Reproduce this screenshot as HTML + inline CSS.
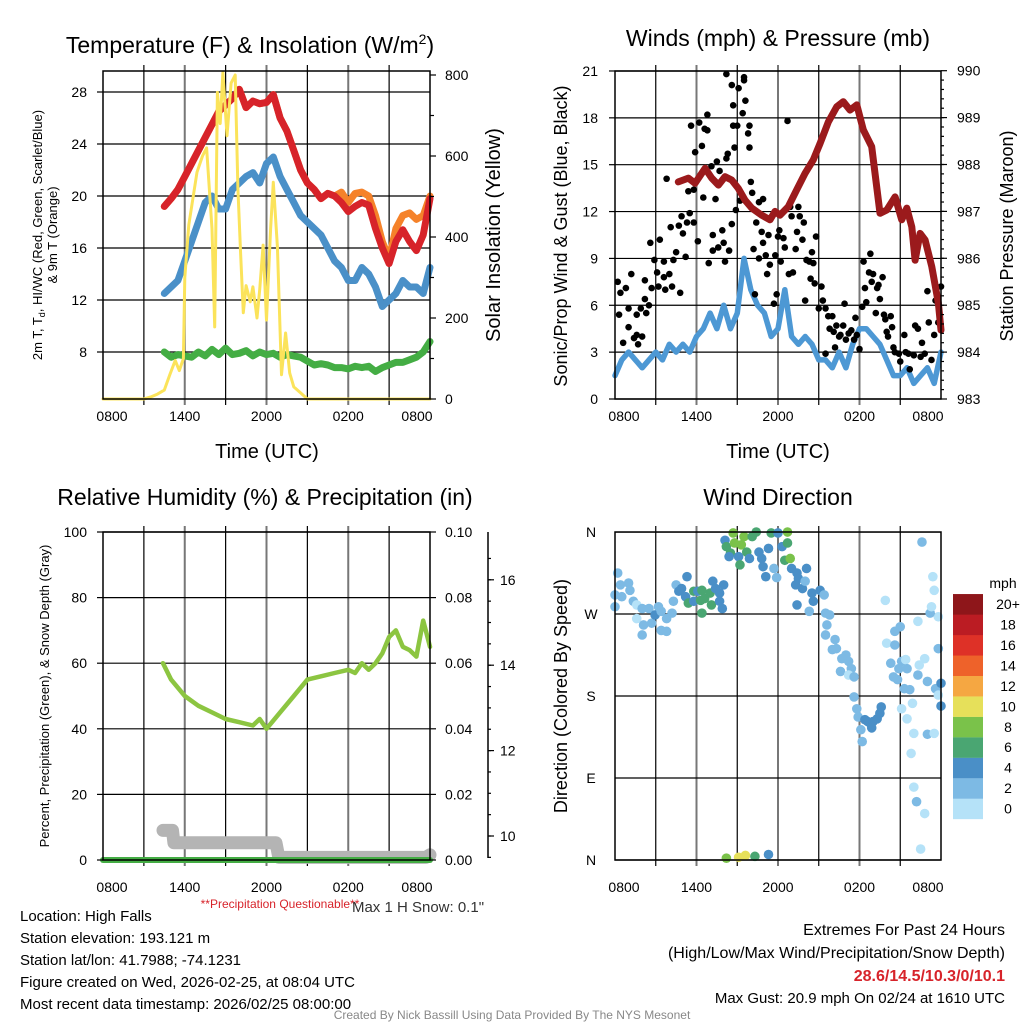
<!DOCTYPE html>
<html><head><meta charset="utf-8"><style>
body{margin:0;background:#fff}
svg{display:block;font-family:"Liberation Sans",sans-serif}
</style></head><body>
<svg id="chart" width="1024" height="1024" viewBox="0 0 1024 1024" xmlns="http://www.w3.org/2000/svg">
<g id="grid"></g><g id="marks"></g><g id="axes"></g><g id="labels"></g>
</svg>
<script>
// ---- data ----
const timeLabels = ["0800","1400","2000","0200","0800"];
const tHours = [4.5,5,5.5,6,6.5,7,7.5,8,8.5,9,9.5,10,10.5,11,11.5,12,12.5,13,13.5,14,14.5,15,15.5,16,16.5,17,17.5,18,18.5,19,19.5,20,20.5,21,21.5,22,22.5,23,23.5,24];
const temp2m = [19.2,19.8,20.5,21.5,22.5,23.5,24.5,25.5,26.5,27,27.5,28.2,26.8,27.3,27.1,27.2,27.8,26,25,23.5,22,21,20.5,19.8,20.2,20,19.5,18.8,19.2,19.5,19.3,17.5,16,14.8,16.5,17.4,16.5,15.8,17,19.8];
const temp9m = [19.2,19.8,20.5,21.5,22.5,23.5,24.5,25.5,26.5,27,27.5,28.2,26.8,27.3,27.1,27.2,27.8,26,25,23.5,22,21,20.5,19.8,20.2,20,20.3,19.5,20.2,20.3,20.0,18.5,16.5,15.2,17.5,18.5,18.7,18.2,18.5,20];
const hiwc = [12.5,13,13.5,15,16.5,18,19.5,20,19,19,20.5,21,21.5,21.8,21,22.5,23,21.5,20.5,19.5,18.5,18,17.5,17,16,15,14.5,13.5,13.5,14.5,14,13,11.5,12,12.5,13.5,13,13,12.5,14.5];
const dewpt = [8,7.6,7.8,7.7,7.6,8,7.7,8.2,7.8,8.3,7.8,7.9,8.1,7.7,8.0,7.8,7.9,7.6,7.8,7.7,7.6,7.3,7.0,7.1,7.0,6.8,6.8,6.7,6.9,6.8,6.9,6.5,6.8,7.0,7.2,7.2,7.4,7.6,8.0,8.8];
const solarHours = [0,3,3.5,4,4.5,4.9,5.3,5.6,5.9,6.0,6.3,6.9,7.3,7.6,8.0,8.2,8.4,8.6,8.8,9.1,9.4,9.7,9.9,10.1,10.3,10.5,10.8,11.0,11.3,11.5,11.75,12.0,12.3,12.5,12.8,13.1,13.4,13.7,14.0,14.5,15,24];
const solarValues = [0,0,5,12,22,60,95,70,100,300,430,560,600,620,420,178,757,680,806,650,780,800,520,360,213,280,240,277,200,270,380,195,420,535,376,60,163,64,30,15,0,0];
const tempTicks = [8,12,16,20,24,28];
const solarTicks = [0,200,400,600,800];

const windHours = [0,0.5,1,1.5,2,2.5,3,3.5,4,4.5,5,5.5,6,6.5,7,7.5,8,8.5,9,9.5,10,10.5,11,11.5,12,12.5,13,13.5,14,14.5,15,15.5,16,16.5,17,17.5,18,18.5,19,19.5,20,20.5,21,21.5,22,22.5,23,23.5,24];
const windSpeed = [1.5,2.5,3,2.5,2.0,2.5,3,2.5,3.5,3.0,3.5,3.0,4,4.5,5.5,4.5,6,4.5,5.5,9,7,6,5.5,4,4.5,7,4,3.5,4,3.5,2.5,2.5,2,3,2,3.5,4.5,4.5,4,3.5,2.5,1.5,1.5,2,1.0,1.5,2.0,1.0,3.0];
const gustHours = [0.2,0.4,0.3,0.8,0.6,1,1,1.2,1.4,1.6,1.7,1.9,1.6,2.2,2.3,2.0,2.5,2.2,2.6,2.7,2.9,3.1,3.2,3.3,3.6,3.6,3.7,3.8,4.0,4.1,4.2,4.3,4.5,4.7,4.8,4.9,5.0,5.2,5.3,5.4,5.5,5.6,5.8,5.8,5.9,6.1,6.2,6.4,6.5,6.6,6.8,6.8,6.9,7.1,7.2,7.2,7.4,7.6,7.5,7.7,7.9,8.0,8.1,8.2,8.2,8.3,8.4,8.6,8.6,8.7,8.7,8.8,8.9,9.0,9.1,9.2,9.4,9.5,9.5,9.6,9.8,9.9,9.9,10.0,10.1,10.2,10.3,10.4,10.6,10.6,10.8,10.9,10.9,11.1,11.2,11.3,11.4,11.7,11.8,11.9,12.0,12.1,12.2,12.4,12.5,12.7,12.8,12.9,13.0,13.1,13.3,13.4,13.5,13.6,13.8,13.9,14.0,14.1,14.3,14.4,14.5,14.6,14.7,14.8,15.0,15.2,15.3,15.5,15.5,15.7,15.8,16.0,16.1,16.2,16.3,16.5,16.6,16.8,16.9,17.0,17.2,17.4,17.6,17.7,17.8,18.0,18.2,18.3,18.4,18.5,18.7,18.8,18.9,19.0,19.2,19.3,19.4,19.5,19.7,19.8,19.9,20.0,20.1,20.3,20.4,20.5,20.6,20.9,21.0,21.3,21.4,21.6,21.7,22.0,22.1,22.3,22.5,22.6,22.8,23.0,23.1,23.3,23.5,23.6,23.8,24.0];
const gustValues = [7.5,6.8,5.4,7.1,3.6,4.6,5.8,8.0,3.9,4.1,3.5,5.8,5.4,6.4,5.5,4.0,6.0,7.6,10.0,7.1,8.9,8.1,7.2,10.2,7.8,8.8,7.0,14.1,8.0,11.0,7.2,8.9,9.4,11.1,6.8,11.7,10.6,9.1,11.3,13.3,11.9,17.5,13.4,11.3,15.8,10.1,17.7,16.2,12.9,17.3,17.2,18.2,8.7,14.9,10.5,9.5,12.8,9.7,15.2,14.6,10.8,10.0,8.8,20.8,15.4,15.7,9.5,20.1,11.2,18.8,17.5,16.1,12.1,17.5,19.9,12.7,18.3,20.4,20.6,19.1,17.0,17.5,16.1,13.9,13.2,9.6,6.7,11.3,12.6,9.0,10.7,12.8,10.0,9.2,8.0,10.5,8.6,6.1,9.2,6.7,10.4,10.8,8.8,10.3,9.7,17.8,8.0,12.3,11.7,8.1,9.6,10.7,12.3,11.7,10.2,11.3,6.3,8.9,8.8,7.7,9.4,8.7,7.4,10.4,5.8,7.2,6.3,5.8,2.9,5.3,4.5,5.3,4.3,3.3,4.7,4.0,4.1,4.7,6.1,3.8,4.2,4.4,3.8,5.2,4.1,3.2,5.9,8.8,7.1,6.2,8.1,9.3,7.5,8.0,5.5,7.1,7.3,6.4,7.8,5.4,5.1,4.3,4.0,5.3,4.6,3.3,3.0,2.9,2.4,4.1,3.0,2.9,1.9,2.8,4.7,4.5,2.7,3.6,2.9,6.9,4.9,2.5,4.1,6.3,4.9,7.2];
const presHours = [4.66,5.40,5.89,6.63,7.12,7.61,8.10,8.59,9.08,9.57,10.07,10.80,11.41,11.78,12.15,12.76,13.38,13.99,14.60,15.10,15.71,16.32,16.81,17.30,17.80,18.28,18.90,19.51,20.01,20.62,21.11,21.48,21.85,22.09,22.46,22.83,23.32,23.81,24.0];
const presValues = [987.63,987.71,987.60,987.92,987.71,987.56,987.74,987.67,987.49,987.24,987.07,986.92,986.82,987.0,986.92,987.10,987.46,987.81,988.10,988.45,988.91,989.23,989.34,989.16,989.27,988.74,988.38,986.96,987.03,987.31,986.82,987.07,986.67,985.96,986.53,986.39,985.82,985.04,984.47];
const windTicks = [0,3,6,9,12,15,18,21];
const presTicks = [983,984,985,986,987,988,989,990];

const rhHours = [4.4,5,6,7,8,9,10,11,11.5,12,13,14,15,16,17,18,18.5,19,19.5,20,20.5,21,21.5,22,22.5,23,23.5,24];
const rhValues = [60,55,50,47,45,43,42,41,43,40,45,50,55,56,57,58,57,60,58,60,63,68,70,65,64,62,73,65];
const snowHours = [4.4,5.1,5.2,12.7,12.9,23.7,24];
const snowValues = [10.13,10.13,9.84,9.84,9.5,9.5,9.56];
const precipHours = [0,24];
const precipValues = [0,0];
const rhTicks = [0,20,40,60,80,100];
const precipTicks = ["0.00","0.02","0.04","0.06","0.08","0.10"];
const snowTicks = [10,12,14,16];

const dirHours = [0.2,0.4,0,0,1.0,1.1,0.5,1.35,1.6,2.0,2.5,1.6,2.1,2.0,2.7,2.95,3.2,3.4,3.8,3.4,3.8,4.2,4.3,4.5,4.7,4.9,5.3,5.2,5.4,5.8,5.8,6.1,6.4,6.3,6.4,6.6,7.0,7.1,7.2,7.4,7.7,8.0,7.7,7.9,8.1,8.2,8.5,8.4,8.7,8.8,9.1,9.2,9.3,9.5,9.7,9.9,10.1,10.4,10.6,10.8,10.9,11.1,11.3,11.5,11.7,11.9,12.0,12.3,12.7,12.7,12.5,12.9,13.0,13.4,13.3,13.5,13.8,14.0,14.1,13.4,14.3,14.5,14.6,15.1,15.4,15.5,15.6,15.8,15.5,16.2,16.0,16.3,16.7,17.0,16.6,17.2,17.4,17.2,17.6,17.6,17.8,17.9,18.1,18.2,18.6,18.8,19.0,19.3,19.5,19.6,18.9,18.4,19.9,20.0,20.6,20.6,21.0,21.1,20.9,20.3,20.5,20.8,21.3,21.7,21.4,21.5,22.4,22.3,22.8,23.0,23.6,24.0,23.8,23.8,23.2,23.3,23.5,23.4,22.6,22.3,21.1,21.5,21.9,22.0,23.0,23.5,21.8,22.0,22.2,22.8,22.5,24.0,23.8,8.2,9.1,9.6,10.3,11.3];
const dirDeg = [315,302,291,278,304,296,289,284,280,276,276,265,258,247,260,269,278,273,265,252,251,271,284,302,295,298,311,289,282,284,295,295,296,285,271,287,293,280,306,298,293,302,284,276,351,344,337,333,359,348,333,324,346,355,338,331,355,360,338,331,322,311,342,359,320,310,359,344,360,348,329,331,320,315,302,309,298,306,320,280,273,293,284,296,291,271,258,269,247,242,231,232,221,225,207,218,210,203,201,179,166,157,143,130,152,150,152,155,161,168,145,154,285,238,236,251,256,218,210,216,201,198,188,187,220,210,214,203,221,196,188,194,232,267,271,278,296,311,349,262,166,155,172,139,138,139,117,80,64,51,12,169,181,2,3,5,4,6];
const dirSpeed = [3,3,3,3,3,3,3,3,1,3,3,1,3,3,3,4,3,3,3,3,3,3,3,3,4,4,4,4,6,4,6,4,6,6,6,6,6,6,4,4,4,4,4,4,4,6,6,4,8,8,4,6,8,8,6,4,6,6,4,4,4,4,4,6,3,3,4,4,8,6,6,8,4,4,4,4,4,3,4,4,3,4,4,4,3,3,3,3,3,3,3,3,3,3,3,3,3,1,3,3,3,3,3,3,4,4,4,4,4,4,4,4,1,1,3,3,3,3,3,3,3,3,3,3,1,3,1,3,1,3,3,4,3,1,3,1,1,1,3,1,1,1,1,1,3,1,1,1,3,1,1,4,1,8,10,10,6,4];
const dirTicks = ["N","E","S","W","N"];
const speedBins = ["0","2","4","6","8","10","12","14","16","18","20+"];
const speedColors = ["#b5e2f8","#7dbae4","#4a8fc7","#4aa672","#7ac24a","#e6e05a","#f5a742","#ee622a","#de3127","#bb1c23","#8e161a"];

// ---- helpers ----
const NS="http://www.w3.org/2000/svg";
const G={grid:document.getElementById('grid'),marks:document.getElementById('marks'),axes:document.getElementById('axes'),labels:document.getElementById('labels')};
function mk(tag,attrs,parent){const e=document.createElementNS(NS,tag);for(const k in attrs)e.setAttribute(k,attrs[k]);G[parent||'marks'].appendChild(e);return e;}
function txt(s,x,y,size,anchor,name,extra){const e=mk('text',Object.assign({x:x,y:y,'font-size':size,'text-anchor':anchor||'middle',fill:'#000'},extra||{}),'labels');e.textContent=s;


return e;}
function pathFrom(xs,ys,fx,fy){let d='';for(let i=0;i<xs.length;i++){d+=(i?'L':'M')+fx(xs[i]).toFixed(1)+' '+fy(ys[i]).toFixed(1);}return d;}
function seriesLine(xs,ys,fx,fy,color,w,name){const p=mk('path',{d:pathFrom(xs,ys,fx,fy),fill:'none',stroke:color,'stroke-width':w,'stroke-linejoin':'round','stroke-linecap':'round'});


return p;}
function box(x0,y0,x1,y1,name){const r=mk('rect',{x:x0,y:y0,width:x1-x0,height:y1-y0,fill:'none',stroke:'#000','stroke-width':1.5},'axes');

}
function vgrid(x0,x1,y0,y1){for(let i=1;i<8;i++){const x=x0+(x1-x0)*i/8;const l=mk('line',{x1:x,x2:x,y1:y0-6,y2:y1+6,stroke:i%2?'#000':'#777','stroke-width':i%2?1.2:2},'grid');

}}
function hgrid(x0,x1,y){const l=mk('line',{x1:x0,x2:x1,y1:y,y2:y,stroke:'#000','stroke-width':1.2},'grid');

}
function tick(x1,y1,x2,y2){const l=mk('line',{x1:x1,y1:y1,x2:x2,y2:y2,stroke:'#000','stroke-width':1.2},'axes');

}
function xLabels(xpos,y){const xs=[xpos[0]+9,xpos[1],xpos[2],xpos[3],xpos[4]-13];timeLabels.forEach((s,i)=>txt(s,xs[i],y,14,'middle','x-tick-label'));}

// ---- Panel 1 ----
const p1={x0:103,x1:430,y0:71,y1:399};
const x1f=h=>p1.x0+h*(p1.x1-p1.x0)/24;
const yT=t=>92+(28-t)*13;
const yS=w=>399-w*0.405;
vgrid(p1.x0,p1.x1,p1.y0,p1.y1);
tempTicks.forEach(t=>{hgrid(p1.x0,p1.x1,yT(t));tick(p1.x0-6,yT(t),p1.x0,yT(t));txt(String(t),87,yT(t)+5,14,'end','temp-tick-label');});
solarTicks.forEach(w=>{tick(p1.x1,yS(w),p1.x1+6,yS(w));txt(String(w),445,yS(w)+5,14,'start','solar-tick-label');});
for(let w=100;w<800;w+=200)tick(p1.x1,yS(w),p1.x1+4,yS(w));
box(p1.x0,p1.y0,p1.x1,p1.y1,'temperature-plot-area');
seriesLine(tHours,temp9m,x1f,yT,'#f5822a',7,'temp-9m-line');
seriesLine(tHours,temp2m,x1f,yT,'#d7232a',7,'temp-2m-line');
seriesLine(tHours,hiwc,x1f,yT,'#4a90c8',7,'heat-index-windchill-line');
seriesLine(tHours,dewpt,x1f,yT,'#44ad44',7,'dewpoint-line');
seriesLine(solarHours,solarValues,x1f,yS,'#fbe35a',3,'solar-insolation-line');
xLabels([p1.x0,x1f(6),x1f(12),x1f(18),p1.x1],421);
txt('Temperature (F) & Insolation (W/m',250,53,23,'middle','temperature-chart-title').innerHTML='Temperature (F) &amp; Insolation (W/m<tspan dy="-9" font-size="14">2</tspan><tspan dy="9">)</tspan>';
txt('Time (UTC)',267,458,20,'middle','temperature-x-axis-title');
txt('2m T, Td, HI/WC (Red, Green, Scarlet/Blue)',42,235,13,'middle','temperature-y-axis-title',{transform:'rotate(-90 42 235)'}).innerHTML='2m T, T<tspan font-size="9" dy="3">d</tspan><tspan dy="-3">, HI/WC (Red, Green, Scarlet/Blue)</tspan>';
txt('& 9m T (Orange)',57,235,13,'middle','temperature-y-axis-title-line2',{transform:'rotate(-90 57 235)'});
txt('Solar Insolation (Yellow)',500,235,20,'middle','solar-y-axis-title',{transform:'rotate(-90 500 235)'});

// ---- Panel 2 ----
const p2={x0:615,x1:941,y0:71,y1:399};
const x2f=h=>p2.x0+h*(p2.x1-p2.x0)/24;
const yW=v=>399-v*15.62;
const yP=p=>399-(p-983)*46.9;
vgrid(p2.x0,p2.x1,p2.y0,p2.y1);
windTicks.forEach(v=>{hgrid(p2.x0,p2.x1,yW(v));tick(p2.x0-6,yW(v),p2.x0,yW(v));txt(String(v),598,yW(v)+5,14,'end','wind-tick-label');});
presTicks.forEach(p=>{tick(p2.x1,yP(p),p2.x1+6,yP(p));txt(String(p),957,yP(p)+5,14,'start','pressure-tick-label');});
for(let p=983.2;p<990;p+=0.2)tick(p2.x1,yP(p),p2.x1+3,yP(p));
box(p2.x0,p2.y0,p2.x1,p2.y1,'wind-plot-area');
seriesLine(windHours,windSpeed,x2f,yW,'#4d98d4',5.5,'sustained-wind-line');
gustHours.forEach((h,i)=>{const c=mk('circle',{cx:x2f(h),cy:yW(gustValues[i]),r:3.3,fill:'#000'});

});
seriesLine(presHours,presValues,x2f,yP,'#9b1a1c',7,'pressure-line');
xLabels([p2.x0,x2f(6),x2f(12),x2f(18),p2.x1],421);
txt('Winds (mph) & Pressure (mb)',778,46,23,'middle','wind-chart-title');
txt('Time (UTC)',778,458,20,'middle','wind-x-axis-title');
txt('Sonic/Prop Wind & Gust (Blue, Black)',567,236,18,'middle','wind-y-axis-title',{transform:'rotate(-90 567 236)'});
txt('Station Pressure (Maroon)',1013,236,18,'middle','pressure-y-axis-title',{transform:'rotate(-90 1013 236)'});

// ---- Panel 3 ----
const p3={x0:103,x1:430,y0:532,y1:860};
const x3f=h=>p3.x0+h*(p3.x1-p3.x0)/24;
const yRH=r=>860-r*3.28;
const ySn=d=>836-(d-10)*42.7;
vgrid(p3.x0,p3.x1,p3.y0,p3.y1);
rhTicks.forEach(r=>{hgrid(p3.x0,p3.x1,yRH(r));tick(p3.x0-6,yRH(r),p3.x0,yRH(r));txt(String(r),87,yRH(r)+5,14,'end','rh-tick-label');});
precipTicks.forEach((s,i)=>{const y=yRH(i*20);tick(p3.x1,y,p3.x1+6,y);txt(s,445,y+5,14,'start','precip-tick-label');});
const sa=mk('line',{x1:488,x2:488,y1:532,y2:858,stroke:'#000','stroke-width':1.5},'axes');


snowTicks.forEach(d=>{tick(488,ySn(d),494,ySn(d));txt(String(d),500,ySn(d)+5,14,'start','snow-tick-label');});
for(let d=9.5;d<17;d+=0.5)tick(488,ySn(d),491,ySn(d));
box(p3.x0,p3.y0,p3.x1,p3.y1,'humidity-plot-area');
seriesLine(snowHours,snowValues,x3f,ySn,'#b4b4b4',13,'snow-depth-line');
seriesLine(precipHours,precipValues,x3f,v=>yRH(v),'#44ad44',6,'precipitation-line');
seriesLine(rhHours,rhValues,x3f,yRH,'#8cc541',4.5,'relative-humidity-line');
xLabels([p3.x0,x3f(6),x3f(12),x3f(18),p3.x1],892);
txt('Relative Humidity (%) & Precipitation (in)',265,505,23,'middle','humidity-chart-title');
txt('Percent, Precipitation (Green), & Snow Depth (Gray)',49,696,13,'middle','humidity-y-axis-title',{transform:'rotate(-90 49 696)'});
txt('**Precipitation Questionable**',280,908,12,'middle','precip-warning',{fill:'#d7232a'});
txt('Max 1 H Snow: 0.1"',418,912,15,'middle','max-snow-note',{fill:'#333'});

// ---- Panel 4 ----
const p4={x0:615,x1:941,y0:532,y1:860};
const x4f=h=>p4.x0+h*(p4.x1-p4.x0)/24;
const yD=d=>860-d*0.911;
vgrid(p4.x0,p4.x1,p4.y0,p4.y1);
dirTicks.forEach((s,i)=>{const y=yD(i*90);hgrid(p4.x0,p4.x1,y);txt(s,591,y+5,14,'middle','direction-tick-label');});
box(p4.x0,p4.y0,p4.x1,p4.y1,'direction-plot-area');
dirHours.forEach((h,i)=>{const bin=Math.min(10,Math.floor(dirSpeed[i]/2));const c=mk('circle',{cx:x4f(h),cy:yD(dirDeg[i]),r:4.8,fill:speedColors[bin]});

});
xLabels([p4.x0,x4f(6),x4f(12),x4f(18),p4.x1],892);
txt('Wind Direction',778,505,23,'middle','direction-chart-title');
txt('Direction (Colored By Speed)',567,696,18,'middle','direction-y-axis-title',{transform:'rotate(-90 567 696)'});
txt('mph',1003,588,14,'middle','colorbar-title');
speedBins.forEach((s,i)=>{const y=819-(i+1)*20.45;const r=mk('rect',{x:953,y:y,width:30,height:20.6,fill:speedColors[i]});


txt(s,1008,y+15,14,'middle','colorbar-label');});

// ---- footer text ----
['Location: High Falls','Station elevation: 193.121 m','Station lat/lon: 41.7988; -74.1231','Figure created on Wed, 2026-02-25, at 08:04 UTC','Most recent data timestamp: 2026/02/25 08:00:00'].forEach((s,i)=>txt(s,20,921+i*22,15,'start','station-info-line'));
txt('Extremes For Past 24 Hours',1005,935,16,'end','extremes-title');
txt('(High/Low/Max Wind/Precipitation/Snow Depth)',1005,958,16,'end','extremes-subtitle');
txt('28.6/14.5/10.3/0/10.1',1005,981,16,'end','extremes-values',{fill:'#d7232a','font-weight':'bold'});
txt('Max Gust: 20.9 mph On 02/24 at 1610 UTC',1005,1003,15,'end','max-gust-note');
txt('Created By Nick Bassill Using Data Provided By The NYS Mesonet',512,1019,12,'middle','credit-line',{fill:'#888'});
</script>
</body></html>
